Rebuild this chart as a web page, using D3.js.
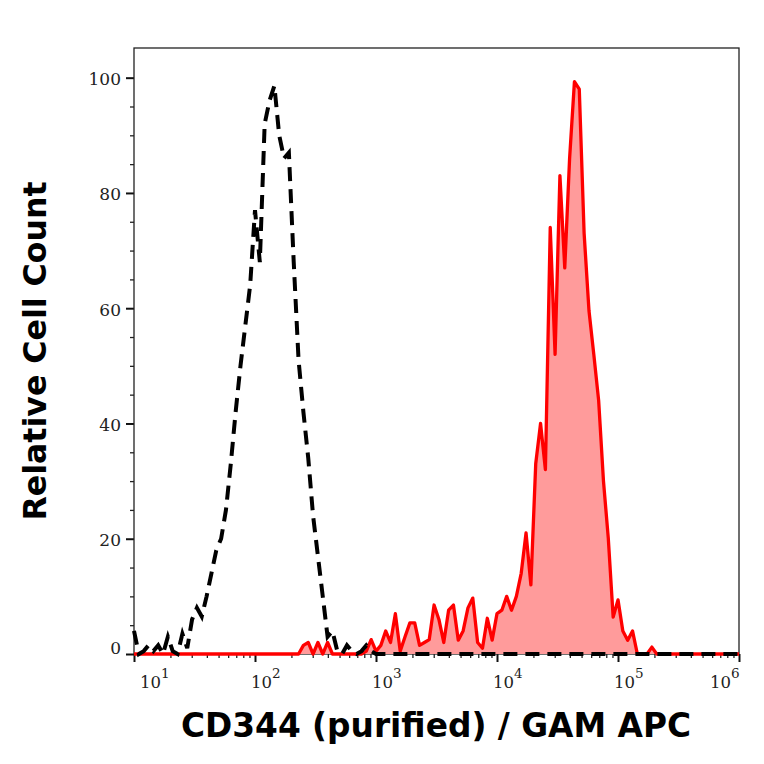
<!DOCTYPE html>
<html>
<head>
<meta charset="utf-8">
<script src="https://cdn.jsdelivr.net/npm/d3@7"></script>
<style>
  body { margin: 0; background: #fff; }
  svg { display: block; }
</style>
</head>
<body>
<div id="chart"></div>
<script>
// histogram bins, evenly spaced in log10 from binStart with step binStep
const binStart = 1.0;
const binStep = 0.04;

// isotype control (black dashed)
const isoCounts = [
  4, 0, 0.5, 1.5, 0.5, 1.5, 0, 3, 0.5, 0,
  3.5, 1, 6, 8, 6.5, 10, 14, 18, 20, 25,
  33, 42, 50, 57, 64, 77, 68, 92, 96, 98.6,
  90, 86, 87, 68, 51, 42, 34, 24, 17, 10,
  3, 4, 0.5, 0, 1.5, 0.5, 0, 0.5, 1.5, 0.5,
  0, 0, 0, 0, 0, 0, 0, 0, 0, 0,
  0, 0, 0, 0, 0, 0, 0, 0, 0, 0,
  0, 0, 0, 0, 0, 0, 0, 0, 0, 0,
  0, 0, 0, 0, 0, 0, 0, 0, 0, 0,
  0, 0, 0, 0, 0, 0, 0, 0, 0, 0,
  0, 0, 0, 0, 0, 0, 0, 0, 0, 0,
  0, 0, 0, 0, 0, 0, 0, 0, 0, 0,
  0, 0, 0, 0, 0, 0
];

// CD344 stained sample (red filled)
const sampleCounts = [
  0, 0, 0, 0, 0, 0, 0, 0, 0, 0,
  0, 0, 0, 0, 0, 0, 0, 0, 0, 0,
  0, 0, 0, 0, 0, 0, 0, 0, 0, 0,
  0, 0, 0, 0, 0, 1.5, 2, 0, 2, 0,
  2, 0, 0, 0, 0, 0, 0, 0, 0.5, 2.5,
  0.5, 1.5, 4, 2, 7, 0.5, 3, 5.4, 5.4, 1.5,
  2, 2.5, 8.5, 6, 2, 7.6, 8.5, 2.4, 4, 8,
  9.7, 2, 1, 6.2, 2.4, 7, 7.6, 10, 7.6, 10,
  14, 21, 12, 33, 40, 32, 74, 52, 83, 67,
  86, 99.3, 98, 73, 59.6, 52, 44, 30, 20, 6.4,
  9.4, 4, 2.4, 4, 0, 0, 0, 1.2, 0, 0,
  0, 0, 0, 0, 0, 0, 0, 0, 0, 0,
  0, 0, 0, 0, 0, 0
];

const xDecades = [1, 2, 3, 4, 5, 6];
const yMajor = [0, 20, 40, 60, 80, 100];
const yMinor = [5, 10, 15, 25, 30, 35, 45, 50, 55, 65, 70, 75, 85, 90, 95];

const xTitle = "CD344 (purified) / GAM APC";
const yTitle = "Relative Cell Count";

const width = 764, height = 764;
const margin = {top: 48, right: 25, bottom: 110, left: 134};

const x = d3.scaleLog()
    .domain([10, 1e6])
    .range([margin.left, width - margin.right]);

const y = d3.scaleLinear()
    .domain([0, 105.15])
    .range([height - margin.bottom, margin.top]);

const toPoints = counts => counts.map((c, i) => ({v: Math.pow(10, binStart + i * binStep), c: c}));
const iso = toPoints(isoCounts);
const sample = toPoints(sampleCounts);

const svg = d3.select("#chart").append("svg")
    .attr("width", width)
    .attr("height", height);

// y axis, major + minor
svg.append("g")
    .attr("transform", `translate(${margin.left},0)`)
    .call(d3.axisLeft(y).tickValues(yMajor).tickSize(8).tickPadding(5))
    .call(g => g.select(".domain").remove())
    .call(g => g.selectAll("line").attr("stroke", "#111").attr("stroke-width", 2))
    .call(g => g.selectAll("text")
        .attr("font-family", "DejaVu Serif")
        .attr("font-size", 17)
        .attr("fill", "#222")
        .attr("dy", d => d === 0 ? "-0.05em" : "0.4em"));

svg.append("g")
    .attr("transform", `translate(${margin.left},0)`)
    .call(d3.axisLeft(y).tickValues(yMinor).tickSize(4).tickFormat(""))
    .call(g => g.select(".domain").remove())
    .call(g => g.selectAll("line").attr("stroke", "#222").attr("stroke-width", 1.3));

// x axis, decades + minor
const minorX = [];
xDecades.slice(0, -1).forEach(e => {
  for (let m = 2; m <= 9; m++) minorX.push(m * Math.pow(10, e));
});

const xAxisG = svg.append("g")
    .attr("transform", `translate(0,${height - margin.bottom})`);

xAxisG.append("g")
    .call(d3.axisBottom(x).tickValues(minorX).tickSize(4).tickFormat(""))
    .call(g => g.select(".domain").remove())
    .call(g => g.selectAll("line").attr("stroke", "#222").attr("stroke-width", 1.3));

xAxisG.append("g")
    .call(d3.axisBottom(x).tickValues(xDecades.map(e => Math.pow(10, e))).tickSize(8).tickFormat(""))
    .call(g => g.select(".domain").remove())
    .call(g => g.selectAll("line").attr("stroke", "#111").attr("stroke-width", 2));

const lbl = xAxisG.selectAll("text.xlab")
    .data(xDecades)
    .join("text")
    .attr("class", "xlab")
    .attr("x", e => Math.max(margin.left + 6, Math.min(x(Math.pow(10, e)) - 4, width - margin.right - 29)))
    .attr("y", 34)
    .attr("font-family", "DejaVu Serif")
    .attr("font-size", 16.5)
    .attr("fill", "#222");
lbl.append("tspan").text("10");
lbl.append("tspan")
    .attr("dy", -10)
    .attr("font-size", 13.5)
    .text(e => e);

// frame
svg.append("rect")
    .attr("x", margin.left)
    .attr("y", margin.top)
    .attr("width", width - margin.left - margin.right)
    .attr("height", height - margin.top - margin.bottom)
    .attr("fill", "none")
    .attr("stroke", "#222")
    .attr("stroke-width", 1.3);

// red filled histogram
const area = d3.area()
    .x(d => x(d.v))
    .y0(y(0))
    .y1(d => y(d.c));
const line = d3.line()
    .x(d => x(d.v))
    .y(d => y(d.c));

svg.append("path")
    .datum(sample)
    .attr("d", area)
    .attr("fill", "#ff9b9b");

svg.append("path")
    .datum(sample)
    .attr("d", line)
    .attr("fill", "none")
    .attr("stroke", "#f00")
    .attr("stroke-width", 3.3)
    .attr("stroke-linejoin", "round");

// black dashed control
svg.append("path")
    .datum(iso)
    .attr("d", line)
    .attr("fill", "none")
    .attr("stroke", "#000")
    .attr("stroke-width", 4)
    .attr("stroke-dasharray", "14,8");

// axis titles
svg.append("text")
    .attr("x", 436)
    .attr("y", 737)
    .attr("text-anchor", "middle")
    .attr("font-family", "DejaVu Sans")
    .attr("font-weight", "bold")
    .attr("font-size", 32.8)
    .attr("fill", "#000")
    .text(xTitle);

svg.append("text")
    .attr("transform", `translate(46,351) rotate(-90)`)
    .attr("text-anchor", "middle")
    .attr("font-family", "DejaVu Sans")
    .attr("font-weight", "bold")
    .attr("font-size", 31.6)
    .attr("fill", "#000")
    .text(yTitle);
</script>
</body>
</html>
